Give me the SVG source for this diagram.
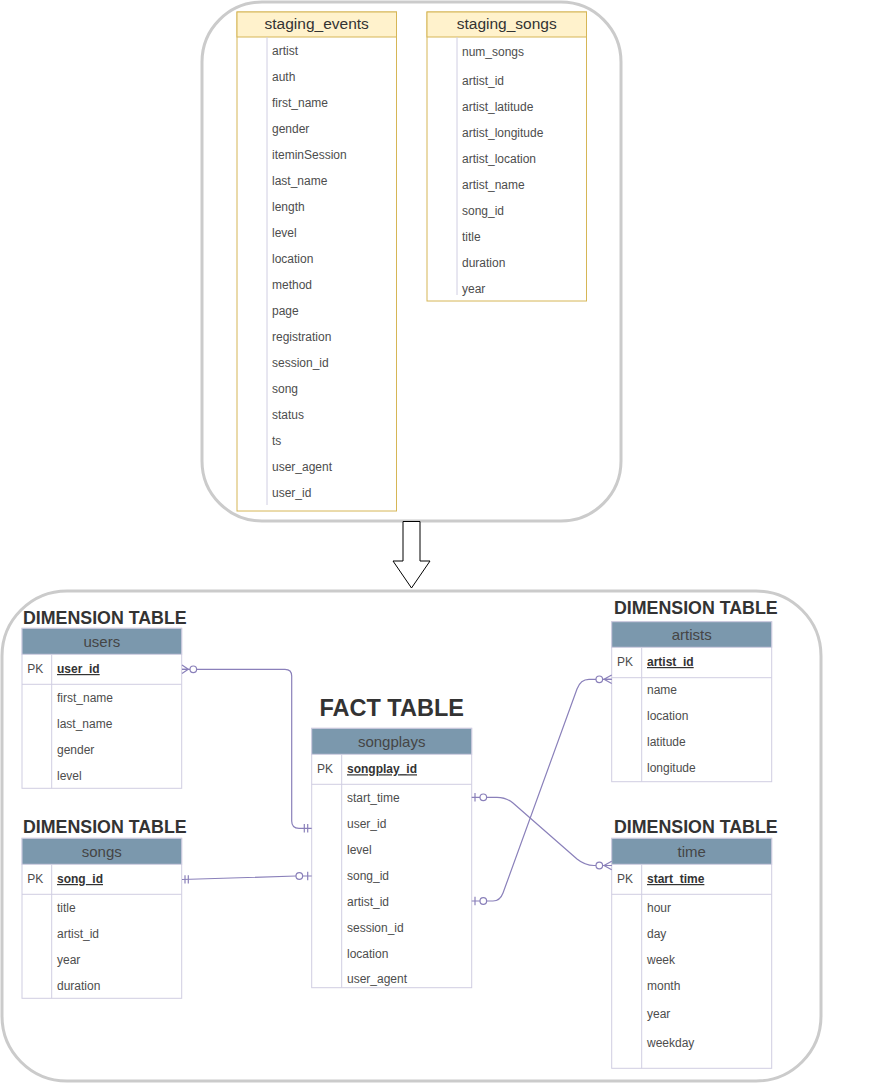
<svg xmlns="http://www.w3.org/2000/svg" width="882" height="1083" viewBox="0 0 882 1083">
<style>
.cont{fill:#fff;stroke:#cbcbcb;stroke-width:3}
.stg{fill:#fff;stroke:#d6b656;stroke-width:1}
.stgh{fill:#fff2cc;stroke:#d6b656;stroke-width:1}
.tb{fill:#fff;stroke:#d0cee2;stroke-width:1}
.tbh{fill:#7b98ad;stroke:#d0cee2;stroke-width:1}
.ln{stroke:#d0cee2;stroke-width:1;fill:none}
.hd{font-family:"Liberation Sans",Arial,sans-serif;font-size:15.5px;fill:#333;text-anchor:middle}
.bh{font-family:"Liberation Sans",Arial,sans-serif;font-size:15px;fill:#454545;text-anchor:middle}
.f{font-family:"Liberation Sans",Arial,sans-serif;font-size:12px;fill:#4d4d4d}
.pk{font-family:"Liberation Sans",Arial,sans-serif;font-size:12px;fill:#333;font-weight:bold;text-decoration:underline}
.tt{font-family:"Liberation Sans",Arial,sans-serif;font-size:17.8px;font-weight:bold;fill:#333}
.ft{font-family:"Liberation Sans",Arial,sans-serif;font-size:23.5px;font-weight:bold;fill:#333;text-anchor:middle}
.c{stroke:#8a80ba;stroke-width:1.2;fill:none}
.o{stroke:#8a80ba;stroke-width:1.2;fill:#fff}
</style>

<g id="staging-container">
<rect class="cont" x="202" y="2" width="419" height="519" rx="60" ry="60"/>
</g>

<g id="staging_events">
<rect class="stg" x="237" y="12" width="159.5" height="499"/>
<rect class="stgh" x="237" y="12" width="159.5" height="25"/>
<text class="hd" x="316.7" y="29">staging_events</text>
<line class="ln" x1="267" y1="37" x2="267" y2="505"/>
<text class="f" x="272" y="55">artist</text>
<text class="f" x="272" y="81">auth</text>
<text class="f" x="272" y="107">first_name</text>
<text class="f" x="272" y="133">gender</text>
<text class="f" x="272" y="159">iteminSession</text>
<text class="f" x="272" y="185">last_name</text>
<text class="f" x="272" y="211">length</text>
<text class="f" x="272" y="237">level</text>
<text class="f" x="272" y="263">location</text>
<text class="f" x="272" y="289">method</text>
<text class="f" x="272" y="315">page</text>
<text class="f" x="272" y="341">registration</text>
<text class="f" x="272" y="367">session_id</text>
<text class="f" x="272" y="393">song</text>
<text class="f" x="272" y="419">status</text>
<text class="f" x="272" y="445">ts</text>
<text class="f" x="272" y="471">user_agent</text>
<text class="f" x="272" y="497">user_id</text>
</g>

<g id="staging_songs">
<rect class="stg" x="427" y="12" width="159.5" height="289"/>
<rect class="stgh" x="427" y="12" width="159.5" height="25"/>
<text class="hd" x="506.7" y="29">staging_songs</text>
<line class="ln" x1="457" y1="37" x2="457" y2="295"/>
<text class="f" x="462" y="56">num_songs</text>
<text class="f" x="462" y="85">artist_id</text>
<text class="f" x="462" y="111">artist_latitude</text>
<text class="f" x="462" y="137">artist_longitude</text>
<text class="f" x="462" y="163">artist_location</text>
<text class="f" x="462" y="189">artist_name</text>
<text class="f" x="462" y="215">song_id</text>
<text class="f" x="462" y="241">title</text>
<text class="f" x="462" y="267">duration</text>
<text class="f" x="462" y="293">year</text>
</g>

<g id="flow-arrow">
<polygon points="403,521.5 420,521.5 420,561 430,561 411.5,588 393,561 403,561" fill="#fff" stroke="#000" stroke-width="1"/>
</g>

<g id="model-container">
<rect class="cont" x="2" y="591" width="819" height="490" rx="65" ry="65"/>
</g>

<g id="users">
<text class="tt" x="23" y="624">DIMENSION TABLE</text>
<rect class="tb" x="22" y="628.3" width="159.7" height="160"/>
<rect class="tbh" x="22" y="628.3" width="159.7" height="26"/>
<text class="bh" x="101.8" y="646.5">users</text>
<line class="ln" x1="22" y1="684.3" x2="181.7" y2="684.3"/>
<line class="ln" x1="51.7" y1="654.3" x2="51.7" y2="788.3"/>
<text class="f" x="27.3" y="673">PK</text>
<text class="pk" x="57" y="673">user_id</text>
<text class="f" x="57" y="701.7">first_name</text>
<text class="f" x="57" y="727.7">last_name</text>
<text class="f" x="57" y="753.7">gender</text>
<text class="f" x="57" y="779.7">level</text>
</g>

<g id="songs">
<text class="tt" x="23" y="833.3">DIMENSION TABLE</text>
<rect class="tb" x="22" y="838.3" width="159.7" height="160"/>
<rect class="tbh" x="22" y="838.3" width="159.7" height="26"/>
<text class="bh" x="101.8" y="856.5">songs</text>
<line class="ln" x1="22" y1="894.3" x2="181.7" y2="894.3"/>
<line class="ln" x1="51.7" y1="864.3" x2="51.7" y2="998.3"/>
<text class="f" x="27.3" y="883">PK</text>
<text class="pk" x="57" y="883">song_id</text>
<text class="f" x="57" y="911.7">title</text>
<text class="f" x="57" y="937.7">artist_id</text>
<text class="f" x="57" y="963.7">year</text>
<text class="f" x="57" y="989.7">duration</text>
</g>

<g id="songplays">
<text class="ft" x="391.7" y="716">FACT TABLE</text>
<rect class="tb" x="311.7" y="728.3" width="160" height="259.4"/>
<rect class="tbh" x="311.7" y="728.3" width="160" height="26"/>
<text class="bh" x="391.7" y="746.5">songplays</text>
<line class="ln" x1="311.7" y1="784.3" x2="471.7" y2="784.3"/>
<line class="ln" x1="341.7" y1="754.3" x2="341.7" y2="987.7"/>
<text class="f" x="317" y="773.3">PK</text>
<text class="pk" x="347" y="773.3">songplay_id</text>
<text class="f" x="347" y="801.5">start_time</text>
<text class="f" x="347" y="827.5">user_id</text>
<text class="f" x="347" y="853.5">level</text>
<text class="f" x="347" y="879.5">song_id</text>
<text class="f" x="347" y="905.5">artist_id</text>
<text class="f" x="347" y="931.5">session_id</text>
<text class="f" x="347" y="957.5">location</text>
<text class="f" x="347" y="983.3">user_agent</text>
</g>

<g id="artists">
<text class="tt" x="614" y="614">DIMENSION TABLE</text>
<rect class="tb" x="611.7" y="621.7" width="160" height="160"/>
<rect class="tbh" x="611.7" y="621.7" width="160" height="25.6"/>
<text class="bh" x="691.7" y="639.8">artists</text>
<line class="ln" x1="611.7" y1="677.7" x2="771.7" y2="677.7"/>
<line class="ln" x1="641.7" y1="647.3" x2="641.7" y2="781.7"/>
<text class="f" x="617" y="666">PK</text>
<text class="pk" x="647" y="666">artist_id</text>
<text class="f" x="647" y="694.3">name</text>
<text class="f" x="647" y="720.3">location</text>
<text class="f" x="647" y="746.3">latitude</text>
<text class="f" x="647" y="772.3">longitude</text>
</g>

<g id="time">
<text class="tt" x="614" y="833.3">DIMENSION TABLE</text>
<rect class="tb" x="611.7" y="838.3" width="160" height="230"/>
<rect class="tbh" x="611.7" y="838.3" width="160" height="26"/>
<text class="bh" x="691.7" y="856.5">time</text>
<line class="ln" x1="611.7" y1="894.3" x2="771.7" y2="894.3"/>
<line class="ln" x1="641.7" y1="864.3" x2="641.7" y2="1068.3"/>
<text class="f" x="617" y="883">PK</text>
<text class="pk" x="647" y="883">start_time</text>
<text class="f" x="647" y="911.7">hour</text>
<text class="f" x="647" y="937.7">day</text>
<text class="f" x="647" y="963.7">week</text>
<text class="f" x="647" y="989.7">month</text>
<text class="f" x="647" y="1018.3">year</text>
<text class="f" x="647" y="1047.3">weekday</text>
</g>

<g id="connectors">
<!-- users.user_id -> songplays.user_id -->
<path class="c" d="M182,669.3 L285,669.3 Q291.7,669.3 291.7,676 L291.7,821 Q291.7,828.3 299,828.3 L311.7,828.3"/>
<path class="c" d="M182,665 L188.3,669.3 L182,673.6 M182,669.3 L188.3,669.3"/>
<circle class="o" cx="193.3" cy="669.3" r="3.3"/>
<path class="c" d="M304.3,824 L304.3,832.6 M307.7,824 L307.7,832.6"/>
<!-- songs.song_id -> songplays.song_id -->
<path class="c" d="M182,879.5 L296,876 L311.7,876"/>
<path class="c" d="M185,875.3 L185,883.6 M188.3,875.3 L188.3,883.6"/>
<circle class="o" cx="299.3" cy="876" r="3.3"/>
<path class="c" d="M307.7,871.7 L307.7,880.3"/>
<!-- songplays.start_time -> time.start_time -->
<path class="c" d="M471.7,797.3 L497,797.3 Q506,797.3 513,803 L577,859 Q585,865.5 594,865.5 L611.7,865.5"/>
<path class="c" d="M475,793 L475,801.6"/>
<circle class="o" cx="483.3" cy="797.3" r="3.3"/>
<circle class="o" cx="599.3" cy="865.5" r="3.3"/>
<path class="c" d="M611.7,861.2 L604,865.5 L611.7,869.8 M604,865.5 L611.7,865.5"/>
<!-- songplays.artist_id -> artists.artist_id -->
<path class="c" d="M471.7,901 L493,901 Q500,901 503,893 L577,689 Q580.5,679.3 589,679.3 L611.7,679.3"/>
<path class="c" d="M475,896.7 L475,905.3"/>
<circle class="o" cx="483.3" cy="901" r="3.3"/>
<circle class="o" cx="599.3" cy="679.3" r="3.3"/>
<path class="c" d="M611.7,675 L604,679.3 L611.7,683.6 M604,679.3 L611.7,679.3"/>
</g>
</svg>
